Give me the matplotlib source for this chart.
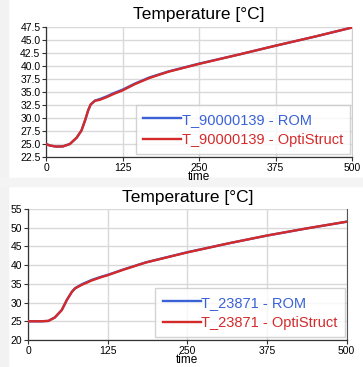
import matplotlib
matplotlib.use("Agg")
import matplotlib.pyplot as plt

plt.rcParams['font.family'] = ['Liberation Sans', 'DejaVu Sans']

# Top panel data (T_90000139)
t1 = [0, 6.5, 17, 28, 39, 50, 58, 64, 69, 73, 80, 88, 99, 110, 125, 145, 169, 200, 250, 315, 375, 441, 500]
opt1 = [25.0, 24.7, 24.5, 24.55, 25.0, 26.2, 27.6, 29.6, 31.5, 32.6, 33.3, 33.5, 34.0, 34.6, 35.3, 36.5, 37.7, 38.9, 40.4, 42.2, 43.9, 45.7, 47.4]
rom1 = [25.0, 24.7, 24.5, 24.55, 25.0, 26.2, 27.6, 29.6, 31.5, 32.6, 33.35, 33.65, 34.15, 34.75, 35.45, 36.6, 37.8, 38.95, 40.45, 42.2, 43.9, 45.7, 47.4]
labels1 = ["T_90000139 - ROM", "T_90000139 - OptiStruct"]
yticks1 = [22.5, 25.0, 27.5, 30.0, 32.5, 35.0, 37.5, 40.0, 42.5, 45.0, 47.5]

# Bottom panel data (T_23871)
t2 = [0, 10, 21, 32, 42, 53, 61, 69, 74, 84, 100, 115, 125, 150, 185, 250, 317, 375, 437, 500]
opt2 = [25.0, 25.0, 25.0, 25.1, 26.0, 28.0, 30.7, 32.9, 33.8, 34.7, 35.9, 36.8, 37.3, 38.8, 40.7, 43.4, 45.9, 47.9, 49.8, 51.6]
rom2 = [25.0, 25.0, 25.0, 25.1, 26.0, 28.0, 30.7, 32.9, 33.85, 34.85, 36.05, 36.9, 37.4, 38.85, 40.75, 43.45, 45.9, 47.9, 49.8, 51.6]
labels2 = ["T_23871 - ROM", "T_23871 - OptiStruct"]
yticks2 = [20, 25, 30, 35, 40, 45, 50, 55]

xticks = [0, 125, 250, 375, 500]
title = "Temperature [°C]"
blue = "#3a62d6"
red = "#d42a2a"

W, H = 363, 367
fig = plt.figure(figsize=(W/100, H/100), dpi=100)
fig.patch.set_facecolor("white")

# light gray background strips
fig.add_artist(plt.Rectangle((0, 0), 8/W, 1, transform=fig.transFigure, color="#f2f2f2", zorder=0))
fig.add_artist(plt.Rectangle((0, 1-186/H), 1, 8/H, transform=fig.transFigure, color="#f4f4f4", zorder=0))


def make_ax(left, right, top, bottom):
    return fig.add_axes([left/W, 1-bottom/H, (right-left)/W, (bottom-top)/H])


def style(ax, t, rom, opt, labels, yticks, ylim, fmt, tpad, right_col):
    ax.plot(t, rom, color=blue, lw=1.7, label=labels[0], zorder=3)
    ax.plot(t, opt, color=red, lw=1.7, label=labels[1], zorder=4)
    ax.set_xlim(0, 500)
    ax.set_ylim(*ylim)
    ax.set_xticks(xticks)
    ax.set_yticks(yticks)
    ax.set_yticklabels([fmt.format(v) for v in yticks])
    ax.grid(True, color="#d9d9d9", lw=1)
    ax.set_axisbelow(True)
    ax.spines["top"].set_visible(False)
    ax.spines["right"].set_color(right_col)
    for s in ["left", "bottom"]:
        ax.spines[s].set_color("#333333")
        ax.spines[s].set_linewidth(0.9)
    ax.tick_params(axis="both", labelsize=7.5, length=3, width=0.8, color="#333333", pad=1)
    ax.set_title(title, fontsize=12.5, pad=tpad)
    ax.set_xlabel("time", fontsize=8.5, labelpad=-1)
    leg = ax.legend(loc="lower right", bbox_to_anchor=(0.995, 0.02), fontsize=10.5, frameon=True,
                    fancybox=False, edgecolor="#c8c8c8", handlelength=2.6, handletextpad=0.05,
                    borderpad=0.5, labelspacing=0.45, borderaxespad=0)
    leg.get_frame().set_linewidth(1)
    for txt, c in zip(leg.get_texts(), [blue, red]):
        txt.set_color(c)
    return ax


ax1 = make_ax(46, 352, 27, 157)
style(ax1, t1, rom1, opt1, labels1, yticks1, (22.5, 47.5), "{:.1f}", 6, "#cfcfcf")

ax2 = make_ax(28, 346.5, 209, 340)
style(ax2, t2, rom2, opt2, labels2, yticks2, (20, 55), "{:.0f}", 5, "#555555")

fig.savefig("out.png", dpi=100)
